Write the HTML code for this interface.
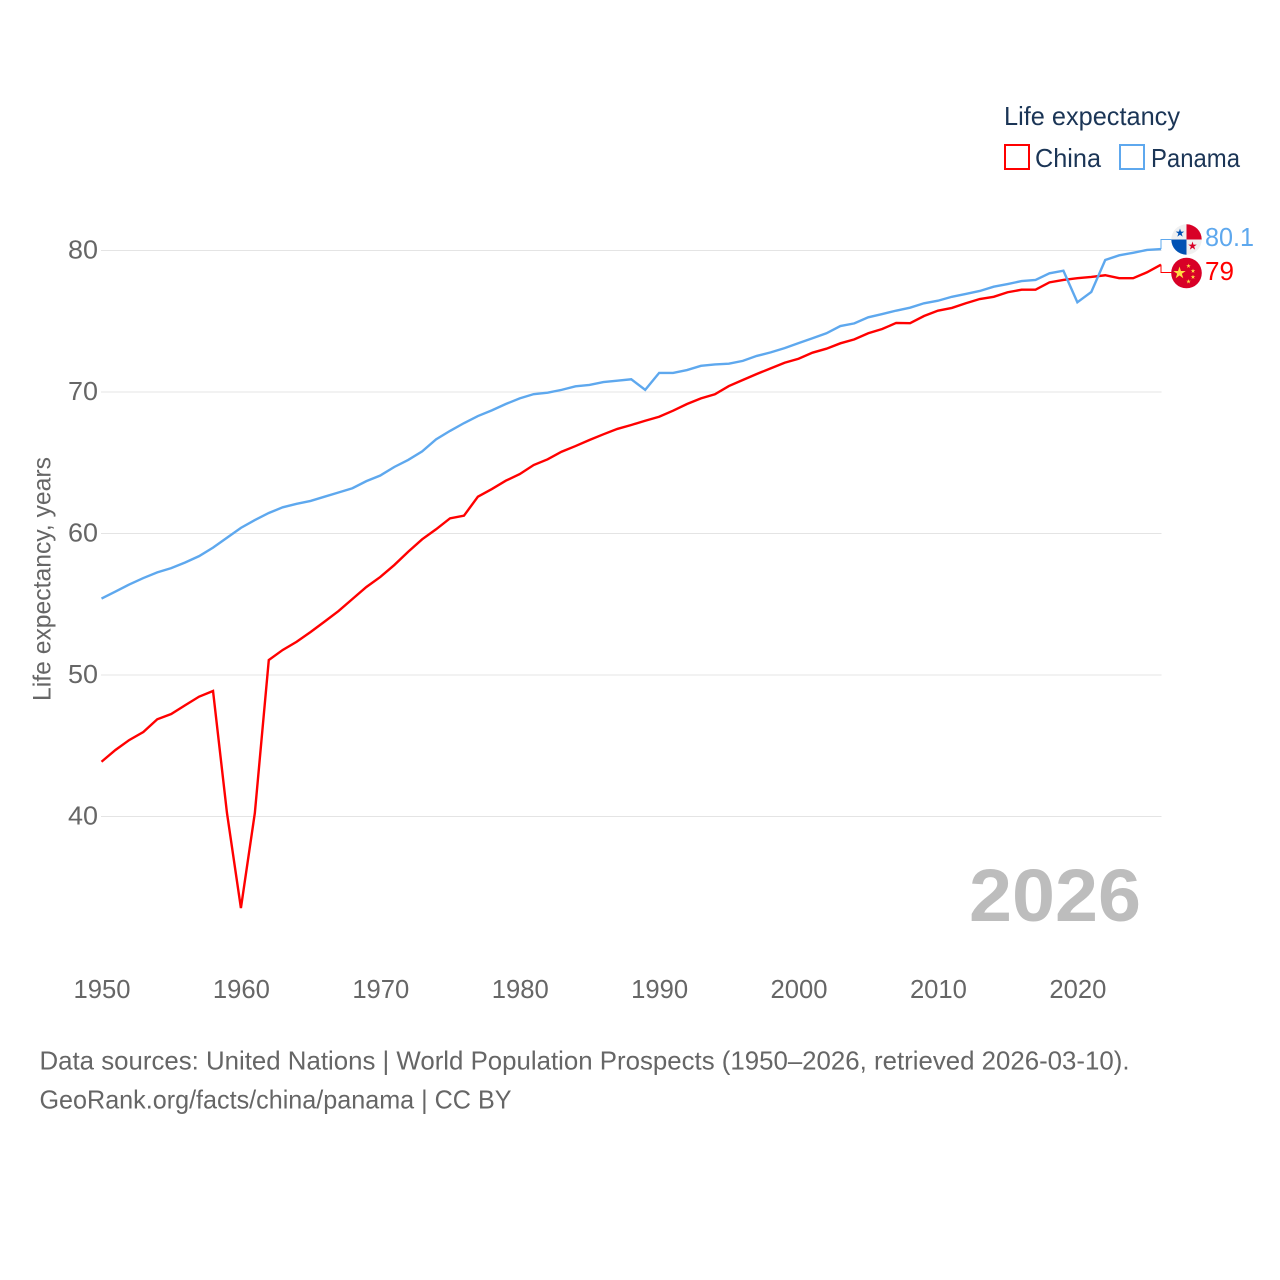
<!DOCTYPE html>
<html lang="en">
<head>
<meta charset="utf-8">
<title>Life expectancy: China and Panama</title>
<style>
html,body{margin:0;padding:0;background:#fff;width:1280px;height:1280px;overflow:hidden}
svg{display:block;font-family:"Liberation Sans",sans-serif}
</style>
</head>
<body>
<svg id="chart" xmlns="http://www.w3.org/2000/svg" width="1280" height="1280" viewBox="0 0 1280 1280">
  <defs>
    <polygon id="star" points="0,-1 0.225,-0.309 0.951,-0.309 0.363,0.118 0.588,0.809 0,0.382 -0.588,0.809 -0.363,0.118 -0.951,-0.309 -0.225,-0.309"/>
    <clipPath id="clip-panama"><circle cx="1186.5" cy="239.5" r="15.2"/></clipPath>
    <clipPath id="clip-china"><circle cx="1186.5" cy="273" r="15.3"/></clipPath>
  </defs>

  <g id="grid"></g>
  <g id="y-ticks"></g>
  <g id="x-ticks"></g>

  <text transform="translate(50.5,701) rotate(-90)" font-size="25" fill="#666666" textLength="244" lengthAdjust="spacingAndGlyphs">Life expectancy, years</text>

  <text x="969" y="921" font-size="74" font-weight="700" fill="#bdbdbd" textLength="172" lengthAdjust="spacingAndGlyphs">2026</text>

  <g id="series"></g>

  <g clip-path="url(#clip-panama)">
    <rect x="1170" y="223" width="33" height="33" fill="#f0f0f0"/>
    <rect x="1186.5" y="223" width="17" height="16.5" fill="#d80027"/>
    <rect x="1170" y="239.5" width="16.5" height="17" fill="#0052b4"/>
    <use href="#star" transform="translate(1180,233) scale(4.5)" fill="#0052b4"/>
    <use href="#star" transform="translate(1192.5,246) scale(4.5)" fill="#d80027"/>
  </g>
  <g clip-path="url(#clip-china)">
    <rect x="1170" y="256" width="33" height="34" fill="#d80027"/>
    <use href="#star" transform="translate(1179.5,273) scale(6.5)" fill="#ffda44"/>
    <use href="#star" transform="translate(1188.5,266) scale(2.4)" fill="#ffda44"/>
    <use href="#star" transform="translate(1193,271) scale(2.4)" fill="#ffda44"/>
    <use href="#star" transform="translate(1193,277) scale(2.4)" fill="#ffda44"/>
    <use href="#star" transform="translate(1188.5,281.5) scale(2.4)" fill="#ffda44"/>
  </g>

  <g>
    <text x="1004" y="125" font-size="26" fill="#1b3556" textLength="176" lengthAdjust="spacingAndGlyphs">Life expectancy</text>
    <g>
      <rect x="1005" y="145" width="24" height="24" fill="none" stroke="#ff0000" stroke-width="2"/>
      <text x="1035" y="167" font-size="26" fill="#1b3556" textLength="66" lengthAdjust="spacingAndGlyphs">China</text>
    </g>
    <g>
      <rect x="1120" y="145" width="24" height="24" fill="none" stroke="#5ea8ee" stroke-width="2"/>
      <text x="1151" y="167" font-size="26" fill="#1b3556" textLength="89" lengthAdjust="spacingAndGlyphs">Panama</text>
    </g>
  </g>

  <g>
    <text x="39.5" y="1069.5" font-size="26" fill="#666666" textLength="1090" lengthAdjust="spacingAndGlyphs">Data sources: United Nations | World Population Prospects (1950–2026, retrieved 2026-03-10).</text>
    <text x="39.5" y="1108.5" font-size="26" fill="#666666" textLength="472" lengthAdjust="spacingAndGlyphs">GeoRank.org/facts/china/panama | CC BY</text>
  </g>
</svg>

<script>
const years = [1950,1951,1952,1953,1954,1955,1956,1957,1958,1959,1960,1961,1962,1963,1964,1965,1966,1967,1968,1969,1970,1971,1972,1973,1974,1975,1976,1977,1978,1979,1980,1981,1982,1983,1984,1985,1986,1987,1988,1989,1990,1991,1992,1993,1994,1995,1996,1997,1998,1999,2000,2001,2002,2003,2004,2005,2006,2007,2008,2009,2010,2011,2012,2013,2014,2015,2016,2017,2018,2019,2020,2021,2022,2023,2024,2025,2026];
const chinaValues = [43.87,44.7,45.41,45.97,46.87,47.24,47.86,48.47,48.87,40.25,33.53,40.25,51.06,51.77,52.35,53.04,53.77,54.52,55.37,56.22,56.93,57.77,58.71,59.59,60.3,61.07,61.26,62.6,63.14,63.73,64.2,64.84,65.24,65.78,66.18,66.61,67.01,67.39,67.67,67.97,68.25,68.68,69.15,69.55,69.84,70.42,70.85,71.27,71.67,72.07,72.35,72.78,73.06,73.44,73.72,74.15,74.45,74.88,74.86,75.37,75.75,75.94,76.27,76.57,76.73,77.05,77.23,77.23,77.75,77.92,78.04,78.13,78.25,78.04,78.04,78.46,79];
const panamaValues = [55.4,55.9,56.4,56.85,57.25,57.55,57.95,58.4,59,59.7,60.4,60.95,61.45,61.85,62.1,62.3,62.6,62.9,63.2,63.7,64.1,64.7,65.2,65.8,66.65,67.25,67.8,68.3,68.7,69.15,69.55,69.85,69.95,70.15,70.4,70.5,70.7,70.8,70.9,70.15,71.35,71.35,71.55,71.85,71.95,72,72.2,72.55,72.8,73.1,73.45,73.8,74.15,74.66,74.85,75.28,75.51,75.75,75.96,76.27,76.45,76.73,76.93,77.14,77.44,77.63,77.84,77.92,78.39,78.57,76.34,77.07,79.33,79.66,79.84,80.04,80.1];
const yTicks = [40,50,60,70,80];
const xTicks = [1950,1960,1970,1980,1990,2000,2010,2020];

const SVG_NS = 'http://www.w3.org/2000/svg';
const xScale = function (year) { return 101.5 + (year - 1950) * (1161 - 101.5) / 76; };
const yScale = function (value) { return 816.5 - (value - 40) * 14.15; };

function make(parent, tag, attrs, text) {
  const el = document.createElementNS(SVG_NS, tag);
  Object.keys(attrs).forEach(function (k) { el.setAttribute(k, attrs[k]); });
  if (text !== undefined) el.textContent = text;
  parent.appendChild(el);
  return el;
}

const gridGroup = document.getElementById('grid');
const yGroup = document.getElementById('y-ticks');
const xGroup = document.getElementById('x-ticks');
const seriesGroup = document.getElementById('series');

yTicks.forEach(function (tick) {
  const line = make(gridGroup, 'line', {x1: 101, x2: 1161.5, y1: yScale(tick), y2: yScale(tick), stroke: '#e4e4e4', 'stroke-width': 1});
  
  
  const label = make(yGroup, 'text', {x: 68, y: yScale(tick) + 8, 'font-size': 26, fill: '#666666', textLength: 30, lengthAdjust: 'spacingAndGlyphs'}, String(tick));
  
  
});

xTicks.forEach(function (tick) {
  const label = make(xGroup, 'text', {x: xScale(tick) - 28, y: 998, 'font-size': 26, fill: '#666666', textLength: 57, lengthAdjust: 'spacingAndGlyphs'}, String(tick));
  
  
});

function linePath(values) {
  return values.map(function (v, i) {
    return (i ? 'L' : 'M') + xScale(years[i]).toFixed(2) + ' ' + yScale(v).toFixed(2);
  }).join(' ');
}

const chinaLine = make(seriesGroup, 'path', {d: linePath(chinaValues), fill: 'none', stroke: '#ff0000', 'stroke-width': 2.4, 'stroke-linejoin': 'miter'});



const panamaLine = make(seriesGroup, 'path', {d: linePath(panamaValues), fill: 'none', stroke: '#5ea8ee', 'stroke-width': 2.4, 'stroke-linejoin': 'miter'});



const chinaLast = chinaValues[chinaValues.length - 1];
const panamaLast = panamaValues[panamaValues.length - 1];
const endX = xScale(years[years.length - 1]);

const chinaConnector = make(seriesGroup, 'path', {d: 'M' + endX + ' ' + yScale(chinaLast) + ' V272.5 H1172', fill: 'none', stroke: '#ff0000', 'stroke-width': 1});



const panamaConnector = make(seriesGroup, 'path', {d: 'M' + endX + ' ' + yScale(panamaLast) + ' V239.5 H1172', fill: 'none', stroke: '#5ea8ee', 'stroke-width': 1});



const panamaValueLabel = make(seriesGroup, 'text', {x: 1205, y: 246, 'font-size': 26, fill: '#5ea8ee', textLength: 49, lengthAdjust: 'spacingAndGlyphs'}, String(panamaLast));



const chinaValueLabel = make(seriesGroup, 'text', {x: 1205, y: 280, 'font-size': 26, fill: '#ff0000', textLength: 29, lengthAdjust: 'spacingAndGlyphs'}, String(chinaLast));


</script>
</body>
</html>
